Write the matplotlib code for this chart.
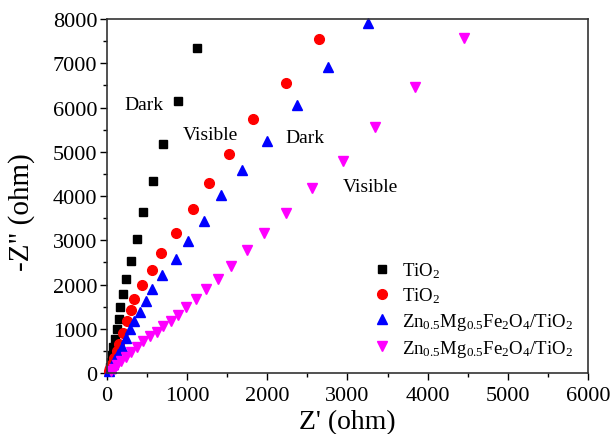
import matplotlib
matplotlib.use("Agg")
import matplotlib.pyplot as plt
from matplotlib.ticker import MultipleLocator

plt.rcParams['font.family'] = ['Liberation Serif', 'DejaVu Serif']
plt.rcParams['mathtext.fontset'] = 'custom'
plt.rcParams['mathtext.rm'] = 'Liberation Serif'
plt.rcParams['mathtext.it'] = 'Liberation Serif:italic'

# TiO2, dark
tio2_dark_x = [22, 32, 46, 61, 78, 99, 120, 149, 161, 203, 233, 295, 370, 444, 577, 702, 888, 1118]
tio2_dark_y = [50, 130, 250, 400, 580, 780, 998, 1224, 1490, 1776, 2116, 2524, 3023, 3643, 4331, 5170, 6152, 7347]

# TiO2, visible
tio2_vis_x = [24, 41, 61, 89, 119, 155, 196, 245, 295, 340, 440, 556, 680, 867, 1076, 1275, 1525, 1823, 2231, 2646]
tio2_vis_y = [40, 110, 210, 340, 490, 660, 900, 1186, 1429, 1678, 1980, 2320, 2721, 3175, 3704, 4286, 4950, 5745, 6546, 7551]

# Zn0.5Mg0.5Fe2O4/TiO2, dark
zmf_dark_x = [27, 48, 73, 104, 140, 186, 237, 286, 340, 411, 481, 564, 689, 855, 1005, 1213, 1420, 1690, 2002,
              2368, 2758, 3250]
zmf_dark_y = [40, 110, 200, 310, 440, 600, 800, 998, 1172, 1376, 1640, 1905, 2207, 2570, 2977, 3439, 4020, 4587,
              5253, 6046, 6916, 7900]

# Zn0.5Mg0.5Fe2O4/TiO2, visible
zmf_vis_x = [48, 84, 130, 181, 237, 303, 375, 452, 535, 619, 702, 797, 888, 984, 1109, 1241, 1388, 1553,
             1748, 1960, 2227, 2563, 2945, 3340, 3843, 4448]
zmf_vis_y = [45, 100, 180, 270, 370, 480, 600, 719, 832, 922, 1058, 1172, 1322, 1504, 1678, 1889, 2132, 2418,
             2773, 3168, 3628, 4172, 4800, 5571, 6463, 7560]

labels = ['TiO$_\\mathregular{2}$', 'TiO$_\\mathregular{2}$',
          'Zn$_\\mathregular{0.5}$Mg$_\\mathregular{0.5}$Fe$_\\mathregular{2}$O$_\\mathregular{4}$/TiO$_\\mathregular{2}$',
          'Zn$_\\mathregular{0.5}$Mg$_\\mathregular{0.5}$Fe$_\\mathregular{2}$O$_\\mathregular{4}$/TiO$_\\mathregular{2}$']

fig = plt.figure(figsize=(6.12, 4.35), dpi=100)
ax = fig.add_axes([0.1748, 0.140, 0.786, 0.814])

ax.plot(tio2_dark_x, tio2_dark_y, 's', color='black', ms=6.3, ls='none', label=labels[0], clip_on=False)
ax.plot(tio2_vis_x, tio2_vis_y, 'o', color='#ff0000', ms=7, ls='none', label=labels[1], clip_on=False)
ax.plot(zmf_dark_x, zmf_dark_y, '^', color='#0000ff', ms=7.5, ls='none', label=labels[2], clip_on=False)
ax.plot(zmf_vis_x, zmf_vis_y, 'v', color='#ff00ff', ms=7.5, ls='none', label=labels[3], clip_on=False)

ax.text(461, 6077, 'Dark', fontsize=14, ha='center', va='center')
ax.text(1284, 5397, 'Visible', fontsize=14, ha='center', va='center')
ax.text(2469, 5329, 'Dark', fontsize=14, ha='center', va='center')
ax.text(3292, 4218, 'Visible', fontsize=14, ha='center', va='center')

ax.set_xlim(0, 6000)
ax.set_ylim(0, 8000)
ax.xaxis.set_major_locator(MultipleLocator(1000))
ax.xaxis.set_minor_locator(MultipleLocator(500))
ax.yaxis.set_major_locator(MultipleLocator(1000))
ax.yaxis.set_minor_locator(MultipleLocator(500))
ax.tick_params(which='major', direction='out', length=5, width=1, labelsize=16, pad=2)
ax.tick_params(axis='x', which='major', pad=4)
ax.tick_params(which='minor', direction='out', length=3, width=1)
for s in ax.spines.values():
    s.set_linewidth(1.2)
    s.set_color('#333333')

ax.set_xlabel("Z' (ohm)", fontsize=20, labelpad=3)
ax.set_ylabel('-Z" (ohm)', fontsize=21)
ax.yaxis.set_label_coords(-0.150, 0.458)

ax.legend(loc='lower right', bbox_to_anchor=(0.985, 0.02), frameon=False, fontsize=13.5,
          handletextpad=0.5, labelspacing=0.3, borderaxespad=0.0, handlelength=1.2)

fig.savefig('out.png', dpi=100)
